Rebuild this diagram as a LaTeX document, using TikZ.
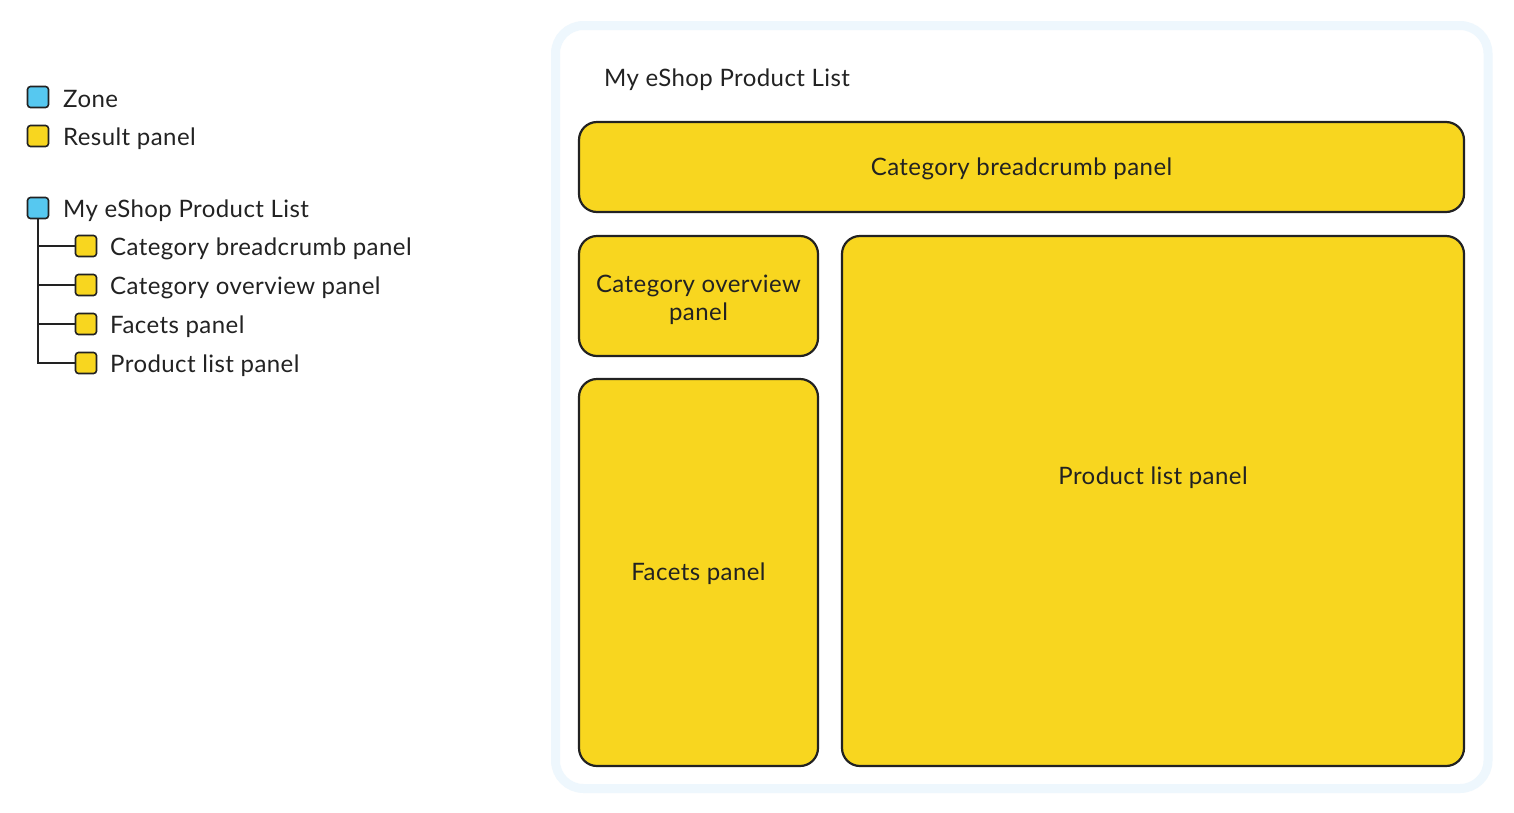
\documentclass[tikz,border=0pt]{standalone}
\usepackage{fontspec}
\setmainfont{Lato}[LetterSpace=1.8]
\definecolor{panelyellow}{HTML}{F8D61F}
\definecolor{zoneblue}{HTML}{56C8F0}
\definecolor{edge}{HTML}{222222}
\definecolor{frame}{HTML}{EEF7FD}
\begin{document}
\begin{tikzpicture}[x=1pt,y=-1pt,
  panel/.style={draw=edge,line width=2.2pt,fill=panelyellow,rounded corners=18pt,inner sep=0pt,align=center,font=\fontsize{24}{28}\selectfont},
  paneltext/.style={inner sep=0pt,align=center,font=\fontsize{24}{28}\selectfont,text=edge},
  key/.style={draw=edge,line width=1.6pt,rounded corners=3pt,minimum size=21pt,inner sep=0pt},
  zonekey/.style={key,fill=zoneblue},
  resultkey/.style={key,fill=panelyellow},
  lbl/.style={anchor=west,inner sep=0pt,font=\fontsize{24}{28}\selectfont,text=edge},
  tree/.style={draw=edge,line width=1.6pt}]
\useasboundingbox (0,0) rectangle (1514,812);
\fill[white] (0,0) rectangle (1514,812);
% container
\draw[frame,line width=9pt,fill=white,rounded corners=28pt] (555.5,25.5) rectangle (1488,788.5);
\node[lbl] (title) at (604,80) {My eShop Product List};
% panels
\node[panel,minimum width=885pt,minimum height=90pt] (bc) at (1021.5,167) {};
\node[paneltext] at (1021.5,169) {Category breadcrumb panel};
\node[panel,minimum width=239pt,minimum height=120pt] (ov) at (698.5,296) {};
\node[paneltext] at (698.5,300) {Category overview\\panel};
\node[panel,minimum width=239pt,minimum height=387pt] (fa) at (698.5,572.5) {};
\node[paneltext] at (698.5,574) {Facets panel};
\node[panel,minimum width=622pt,minimum height=530pt] (pl) at (1153,501) {};
\node[paneltext] (pltext) at (1153,478) {Product list panel};
% legend
\node[zonekey] (kz) at (38,97) {};
\node[lbl] (lz) at (63,99) {Zone};
\node[resultkey] (kr) at (38,136) {};
\node[lbl] (lr) at (63,139) {Result panel};
\node[zonekey] (t0) at (38,208) {};
\node[lbl] (l0) at (63,211) {My eShop Product List};
\node[resultkey] (t1) at (86,246) {};
\node[lbl] (l1) at (110,249) {Category breadcrumb panel};
\node[resultkey] (t2) at (86,285) {};
\node[lbl] (l2) at (110,288) {Category overview panel};
\node[resultkey] (t3) at (86,324) {};
\node[lbl] (l3) at (110,327) {Facets panel};
\node[resultkey] (t4) at (86,363) {};
\node[lbl] (l4) at (110,366) {Product list panel};
\draw[tree] (t0.south) |- (t4.west);
\draw[tree] (t0.south |- t1.west) -- (t1.west);
\draw[tree] (t0.south |- t2.west) -- (t2.west);
\draw[tree] (t0.south |- t3.west) -- (t3.west);
\end{tikzpicture}
\end{document}
